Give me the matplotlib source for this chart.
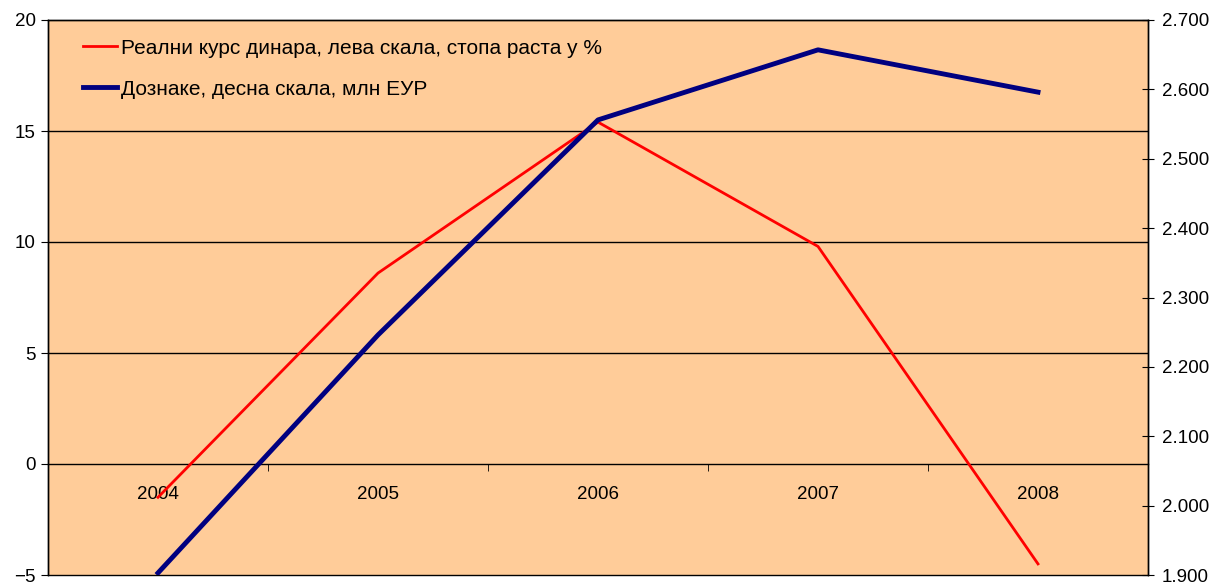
import matplotlib.pyplot as plt
from matplotlib.ticker import FuncFormatter, FixedLocator

plt.rcParams['font.family'] = ['Liberation Sans', 'DejaVu Sans']

# Data
years = ['2004', '2005', '2006', '2007', '2008']
real_rate = [-1.5, 8.6, 15.4, 9.8, -4.5]          # left scale, %
remittances = [1903, 2246, 2556, 2657, 2596]      # right scale, mn EUR

label_rate = 'Реални курс динара, лева скала, стопа раста у %'
label_rem = 'Дознаке, десна скала, млн ЕУР'

fig = plt.figure(figsize=(12.24, 5.84), dpi=100)
ax = fig.add_axes([48 / 1224, 9 / 584, 1100 / 1224, 555 / 584])
ax.set_facecolor('#FFCC99')
ax2 = ax.twinx()

x = list(range(len(years)))
ln1, = ax.plot(x, real_rate, color='#FF0000', lw=2, zorder=3)
ln2, = ax2.plot(x, remittances, color='#000080', lw=3.5, zorder=3)

ax.set_xlim(-0.5, len(years) - 0.5)
ax.set_ylim(-5, 20)
ax.set_yticks([-5, 0, 5, 10, 15, 20])
for v in [5, 10, 15]:
    ax.axhline(v, color='black', lw=1, zorder=1)

ax2.set_ylim(1900, 2700)
ax2.set_yticks(range(1900, 2701, 100))
ax2.yaxis.set_major_formatter(FuncFormatter(lambda v, p: f'{int(v):,}'.replace(',', '.')))

# category axis crosses at zero
ax.spines['bottom'].set_position(('data', 0))
ax.set_xticks(x)
ax.set_xticklabels(years)
ax.xaxis.set_minor_locator(FixedLocator([i + 0.5 for i in x[:-1]]))
ax.tick_params(axis='x', which='major', length=0, pad=16, labelsize=13.5)
ax.tick_params(axis='x', which='minor', length=5, direction='out')
ax.tick_params(axis='y', length=5, direction='out', labelsize=13.5, pad=4)
ax2.tick_params(axis='y', length=8, direction='inout', labelsize=13.5, pad=6)

for sp in ax.spines.values():
    sp.set_linewidth(1)
for sp in ax2.spines.values():
    sp.set_linewidth(1)

ax2.set_zorder(ax.get_zorder() + 1)
ax2.patch.set_visible(False)

leg = ax2.legend([ln1, ln2], [label_rate, label_rem], loc='upper left',
                 bbox_to_anchor=(0.015, 1.0), frameon=False, fontsize=15,
                 handlelength=1.6, handletextpad=0.2, labelspacing=1.05)

fig.savefig('out.png', dpi=100)
